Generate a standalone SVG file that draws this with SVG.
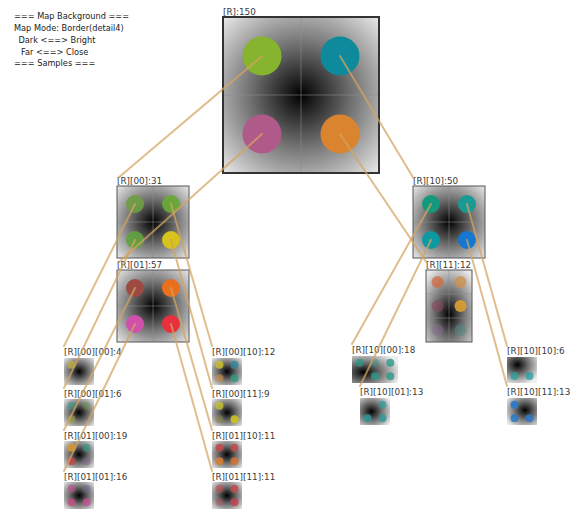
<svg xmlns="http://www.w3.org/2000/svg" width="577" height="510" viewBox="0 0 577 510">
<style>
.info{font-family:"DejaVu Sans",sans-serif;font-size:8.2px;fill:#222}
.lbl{font-family:"DejaVu Sans",sans-serif;font-size:8.8px;fill:#3a3a3a}
.conn{stroke:#d3a45f;stroke-width:2;stroke-opacity:.72;fill:none;stroke-linecap:round}
.div{stroke:#8c8c8c;stroke-width:1;opacity:.55}
.frame{fill:none;stroke:#333;stroke-width:2}
.mframe{fill:none;stroke:#555;stroke-width:1}
.soft{filter:url(#blur)}
</style>
<defs>
<filter id="blur" x="-50%" y="-50%" width="200%" height="200%"><feGaussianBlur stdDeviation="0.7"/></filter>
<radialGradient id="bg" cx="0.5" cy="0.5" r="0.72"><stop offset="0" stop-color="#000"/><stop offset="0.45" stop-color="#707070"/><stop offset="1" stop-color="#eeeeee"/></radialGradient>
<radialGradient id="bg11" cx="0.5" cy="0.62" r="0.72"><stop offset="0" stop-color="#000"/><stop offset="0.45" stop-color="#707070"/><stop offset="1" stop-color="#e8e8e8"/></radialGradient>
<radialGradient id="bgA" cx="0.26" cy="0.6" r="0.8"><stop offset="0" stop-color="#000"/><stop offset="0.45" stop-color="#707070"/><stop offset="1" stop-color="#eeeeee"/></radialGradient>
<radialGradient id="bgB" cx="0.38" cy="0.5" r="0.75"><stop offset="0" stop-color="#000"/><stop offset="0.45" stop-color="#707070"/><stop offset="1" stop-color="#eeeeee"/></radialGradient>
<radialGradient id="bgC" cx="0.35" cy="0.3" r="0.8"><stop offset="0" stop-color="#000"/><stop offset="0.45" stop-color="#707070"/><stop offset="1" stop-color="#eeeeee"/></radialGradient>
<radialGradient id="bgD" cx="0.6" cy="0.45" r="0.75"><stop offset="0" stop-color="#000"/><stop offset="0.45" stop-color="#707070"/><stop offset="1" stop-color="#eeeeee"/></radialGradient>
</defs>
<rect width="577" height="510" fill="#fff"/>

<g id="info">
<text class="info" x="14" y="19">=== Map Background ===</text>
<text class="info" x="14" y="30.5">Map Mode: Border(detail4)</text>
<text class="info" x="18.5" y="42.5">Dark &lt;==&gt; Bright</text>
<text class="info" x="21" y="54.5">Far &lt;==&gt; Close</text>
<text class="info" x="14" y="66">=== Samples ===</text>
</g>

<g id="node-R">
<text class="lbl" x="223" y="15">[R]:150</text>
<rect x="223" y="17" width="156" height="156" fill="url(#bg)"/>
<line class="div" x1="301" y1="17" x2="301" y2="173"/>
<line class="div" x1="223" y1="95" x2="379" y2="95"/>
<circle cx="262" cy="56" r="19.5" fill="#86b42e"/>
<circle cx="340" cy="56" r="19.5" fill="#0e8a9c"/>
<circle cx="262" cy="134" r="19.5" fill="#b05a8a"/>
<circle cx="340" cy="134" r="19.5" fill="#da8430"/>
<rect class="frame" x="223" y="17" width="156" height="156"/>
</g>

<g id="node-R00">
<text class="lbl" x="117" y="184">[R][00]:31</text>
<rect x="117" y="186" width="72" height="72" fill="url(#bg)"/>
<line class="div" x1="153" y1="186" x2="153" y2="258"/>
<line class="div" x1="117" y1="222" x2="189" y2="222"/>
<circle cx="135" cy="204" r="9" fill="#6e9e42" opacity=".9"/>
<circle cx="171" cy="204" r="9" fill="#68a838" opacity=".95"/>
<circle cx="135" cy="240" r="9" fill="#62a23c" opacity=".9"/>
<circle cx="171" cy="240" r="9" fill="#d8c21c"/>
<rect class="mframe" x="117" y="186" width="72" height="72"/>
</g>

<g id="node-R01">
<text class="lbl" x="117" y="268">[R][01]:57</text>
<rect x="117" y="270" width="72" height="72" fill="url(#bg)"/>
<line class="div" x1="153" y1="270" x2="153" y2="342"/>
<line class="div" x1="117" y1="306" x2="189" y2="306"/>
<circle cx="135" cy="288" r="9" fill="#9c4a42"/>
<circle cx="171" cy="288" r="9" fill="#ea701c"/>
<circle cx="135" cy="324" r="9" fill="#d050aa"/>
<circle cx="171" cy="324" r="9" fill="#e8303c"/>
<rect class="mframe" x="117" y="270" width="72" height="72"/>
</g>

<g id="node-R10">
<text class="lbl" x="413" y="184">[R][10]:50</text>
<rect x="413" y="186" width="72" height="72" fill="url(#bg)"/>
<line class="div" x1="449" y1="186" x2="449" y2="258"/>
<line class="div" x1="413" y1="222" x2="485" y2="222"/>
<circle cx="431" cy="204" r="9" fill="#14997e"/>
<circle cx="467" cy="204" r="9" fill="#1a9a94"/>
<circle cx="431" cy="240" r="9" fill="#0e98a2"/>
<circle cx="467" cy="240" r="9" fill="#1478d2"/>
<rect class="mframe" x="413" y="186" width="72" height="72"/>
</g>

<g id="node-R11">
<text class="lbl" x="426" y="268">[R][11]:12</text>
<rect x="426" y="270" width="46" height="72" fill="url(#bg11)"/>
<line class="div" x1="449" y1="270" x2="449" y2="342"/>
<line class="div" x1="426" y1="294" x2="472" y2="294"/>
<line class="div" x1="426" y1="318" x2="472" y2="318"/>
<g class="soft">
<circle cx="437.5" cy="282" r="6" fill="#d06a40" opacity=".75"/>
<circle cx="460.5" cy="282" r="6" fill="#d0904a" opacity=".75"/>
<circle cx="437.5" cy="306" r="6" fill="#8a4862" opacity=".6"/>
<circle cx="460.5" cy="306" r="6" fill="#dca032" opacity=".9"/>
<circle cx="437.5" cy="330" r="6" fill="#8a6a90" opacity=".45"/>
<circle cx="460.5" cy="330" r="6" fill="#4a8a86" opacity=".5"/>
</g>
<rect class="mframe" x="426" y="270" width="46" height="72"/>
</g>

<g id="leaf-R0000">
<text class="lbl" x="64" y="355">[R][00][00]:4</text>
<rect x="64" y="358" width="30" height="27" fill="url(#bg)"/>
<g class="soft"><circle cx="71.5" cy="364.7" r="4" fill="#bcb040" opacity=".75"/></g>
</g>
<g id="leaf-R0001">
<text class="lbl" x="64" y="397">[R][00][01]:6</text>
<rect x="64" y="399" width="30" height="27" fill="url(#bg)"/>
<g class="soft">
<circle cx="71.5" cy="405.7" r="4" fill="#3a9a8a" opacity=".6"/>
<circle cx="86.5" cy="405.7" r="4" fill="#6a9a40" opacity=".4"/>
<circle cx="71.5" cy="419.2" r="4" fill="#9aa040" opacity=".6"/>
</g>
</g>
<g id="leaf-R0100">
<text class="lbl" x="64" y="439">[R][01][00]:19</text>
<rect x="64" y="441" width="30" height="27" fill="url(#bg)"/>
<g class="soft">
<circle cx="71.5" cy="447.7" r="4" fill="#d89a30" opacity=".85"/>
<circle cx="86.5" cy="447.7" r="4" fill="#2a9a80" opacity=".6"/>
<circle cx="71.5" cy="461.2" r="4" fill="#c84040" opacity=".75"/>
<circle cx="86.5" cy="461.2" r="4" fill="#806090" opacity=".5"/>
</g>
</g>
<g id="leaf-R0101">
<text class="lbl" x="64" y="480">[R][01][01]:16</text>
<rect x="64" y="482" width="30" height="27" fill="url(#bg)"/>
<g class="soft">
<circle cx="71.5" cy="488.7" r="4" fill="#c05090" opacity=".6"/>
<circle cx="86.5" cy="488.7" r="4" fill="#706090" opacity=".45"/>
<circle cx="71.5" cy="502.2" r="4" fill="#c84a82" opacity=".75"/>
<circle cx="86.5" cy="502.2" r="4" fill="#c84a96" opacity=".75"/>
</g>
</g>

<g id="leaf-R0010">
<text class="lbl" x="212" y="355">[R][00][10]:12</text>
<rect x="212" y="358" width="30" height="27" fill="url(#bg)"/>
<g class="soft">
<circle cx="219.5" cy="364.7" r="4" fill="#c8c030" opacity=".85"/>
<circle cx="234.5" cy="364.7" r="4" fill="#2a8aa0" opacity=".75"/>
<circle cx="219.5" cy="378.2" r="4" fill="#c89040" opacity=".6"/>
<circle cx="234.5" cy="378.2" r="4" fill="#2a9a80" opacity=".8"/>
</g>
</g>
<g id="leaf-R0011">
<text class="lbl" x="212" y="397">[R][00][11]:9</text>
<rect x="212" y="399" width="30" height="27" fill="url(#bg)"/>
<g class="soft">
<circle cx="219.5" cy="405.7" r="4" fill="#c4c030" opacity=".8"/>
<circle cx="219.5" cy="419.2" r="4" fill="#8a8a40" opacity=".5"/>
<circle cx="234.5" cy="419.2" r="4" fill="#cac420" opacity=".9"/>
</g>
</g>
<g id="leaf-R0110">
<text class="lbl" x="212" y="439">[R][01][10]:11</text>
<rect x="212" y="441" width="30" height="27" fill="url(#bg)"/>
<g class="soft">
<circle cx="219.5" cy="447.7" r="4" fill="#c44848" opacity=".8"/>
<circle cx="234.5" cy="447.7" r="4" fill="#c44848" opacity=".8"/>
<circle cx="219.5" cy="461.2" r="4" fill="#d88030" opacity=".85"/>
<circle cx="234.5" cy="461.2" r="4" fill="#d87030" opacity=".85"/>
</g>
</g>
<g id="leaf-R0111">
<text class="lbl" x="212" y="480">[R][01][11]:11</text>
<rect x="212" y="482" width="30" height="27" fill="url(#bg)"/>
<g class="soft">
<circle cx="219.5" cy="488.7" r="4" fill="#c05050" opacity=".6"/>
<circle cx="234.5" cy="488.7" r="4" fill="#c84848" opacity=".8"/>
<circle cx="219.5" cy="502.2" r="4" fill="#b05060" opacity=".45"/>
<circle cx="234.5" cy="502.2" r="4" fill="#c84050" opacity=".8"/>
</g>
</g>

<g id="leaf-R1000">
<text class="lbl" x="352" y="353">[R][10][00]:18</text>
<rect x="352" y="356" width="46" height="27" fill="url(#bgA)"/>
<g class="soft">
<circle cx="359.7" cy="362.7" r="4" fill="#2a9a88" opacity=".7"/>
<circle cx="375" cy="362.7" r="4" fill="#2a9a88" opacity=".4"/>
<circle cx="390.3" cy="362.7" r="4" fill="#2a9a88" opacity=".8"/>
<circle cx="375" cy="376.2" r="4" fill="#2a9a88" opacity=".8"/>
<circle cx="390.3" cy="376.2" r="4" fill="#2a9a88" opacity=".8"/>
</g>
</g>
<g id="leaf-R1001">
<text class="lbl" x="360" y="395">[R][10][01]:13</text>
<rect x="360" y="398" width="30" height="27" fill="url(#bgB)"/>
<g class="soft">
<circle cx="382.5" cy="404.7" r="4" fill="#2a9a98" opacity=".7"/>
<circle cx="367.5" cy="418.2" r="4" fill="#2a9a98" opacity=".8"/>
<circle cx="382.5" cy="418.2" r="4" fill="#2a9a98" opacity=".8"/>
</g>
</g>
<g id="leaf-R1010">
<text class="lbl" x="507" y="354">[R][10][10]:6</text>
<rect x="507" y="357" width="30" height="26" fill="url(#bgC)"/>
<g class="soft">
<circle cx="514.5" cy="376" r="4" fill="#2aa0a0" opacity=".75"/>
<circle cx="529.5" cy="376" r="4" fill="#2aa0a0" opacity=".75"/>
</g>
</g>
<g id="leaf-R1011">
<text class="lbl" x="507" y="395">[R][10][11]:13</text>
<rect x="507" y="398" width="30" height="27" fill="url(#bgD)"/>
<g class="soft">
<circle cx="514.5" cy="404.7" r="4" fill="#2a78c8" opacity=".9"/>
<circle cx="514.5" cy="418.2" r="4" fill="#2a78c8" opacity=".85"/>
<circle cx="529.5" cy="418.2" r="4" fill="#2a78c8" opacity=".8"/>
</g>
</g>

<g id="connectors">
<line class="conn" x1="262" y1="56" x2="118" y2="178"/>
<line class="conn" x1="262" y1="134" x2="118" y2="263"/>
<line class="conn" x1="340" y1="56" x2="414" y2="179"/>
<line class="conn" x1="340" y1="134" x2="427" y2="263"/>
<line class="conn" x1="135" y1="204" x2="64" y2="346"/>
<line class="conn" x1="135" y1="240" x2="64" y2="388"/>
<line class="conn" x1="135" y1="288" x2="64" y2="430"/>
<line class="conn" x1="135" y1="324" x2="64" y2="471"/>
<line class="conn" x1="171" y1="204" x2="212" y2="346"/>
<line class="conn" x1="171" y1="240" x2="212" y2="388"/>
<line class="conn" x1="171" y1="288" x2="212" y2="430"/>
<line class="conn" x1="171" y1="324" x2="212" y2="471"/>
<line class="conn" x1="431" y1="204" x2="352" y2="344"/>
<line class="conn" x1="431" y1="240" x2="360" y2="386"/>
<line class="conn" x1="467" y1="204" x2="507" y2="346"/>
<line class="conn" x1="467" y1="240" x2="507" y2="386"/>
</g>
</svg>
